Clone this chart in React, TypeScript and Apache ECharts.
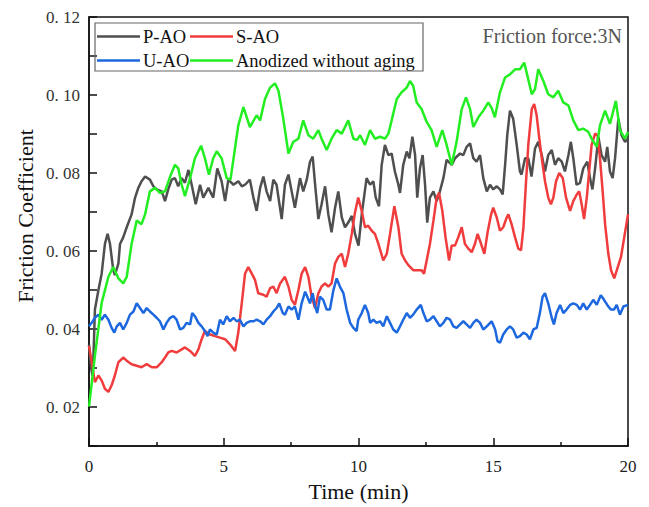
import React, { useEffect, useRef } from "react";
import * as echarts from "echarts";

const seriesNames = ["P-AO", "S-AO", "U-AO", "Anodized without aging"];
const seriesColors = ["#4f4f4f", "#f03c3c", "#1d68de", "#22ee22"];

const pAO: [number, number][] = [
  [0, 0.036], [0.08, 0.030], [0.13, 0.028], [0.17, 0.034], [0.22, 0.045], [0.35, 0.050], [0.47, 0.0542], [0.59, 0.0618], [0.69, 0.0644], [0.78, 0.0618], [0.9, 0.0551], [0.96, 0.0538], [1.09, 0.0568], [1.15, 0.0618], [1.27, 0.0635], [1.4, 0.0661], [1.58, 0.0694], [1.71, 0.0737], [1.83, 0.0762], [1.95, 0.0779], [2.08, 0.0791], [2.26, 0.0783], [2.39, 0.0766], [2.51, 0.0758], [2.7, 0.0753], [2.82, 0.0728], [2.94, 0.0758], [3.07, 0.0783], [3.19, 0.0787], [3.31, 0.0766], [3.44, 0.0787], [3.56, 0.0775], [3.69, 0.0808], [3.81, 0.077], [3.96, 0.072], [4.12, 0.077], [4.24, 0.0737], [4.43, 0.0762], [4.61, 0.0737], [4.76, 0.0812], [4.92, 0.0779], [5.05, 0.0728], [5.17, 0.0783], [5.36, 0.077], [5.54, 0.0779], [5.67, 0.0766], [5.79, 0.077], [5.97, 0.0783], [6.1, 0.0737], [6.22, 0.0703], [6.35, 0.0762], [6.47, 0.0791], [6.59, 0.0753], [6.72, 0.0728], [6.84, 0.0783], [6.96, 0.077], [7.15, 0.0682], [7.27, 0.077], [7.4, 0.0796], [7.52, 0.0753], [7.64, 0.0711], [7.83, 0.0787], [7.95, 0.0753], [8.08, 0.0783], [8.2, 0.0829], [8.3, 0.0842], [8.39, 0.077], [8.51, 0.0682], [8.63, 0.072], [8.76, 0.0766], [8.88, 0.0694], [9.0, 0.0648], [9.13, 0.0711], [9.25, 0.0753], [9.38, 0.0686], [9.5, 0.0661], [9.62, 0.0673], [9.75, 0.069], [9.87, 0.0644], [10.0, 0.0614], [10.12, 0.0694], [10.3, 0.0787], [10.43, 0.077], [10.55, 0.0779], [10.64, 0.0737], [10.76, 0.0715], [10.86, 0.0821], [10.98, 0.0872], [11.11, 0.0846], [11.23, 0.085], [11.35, 0.0804], [11.48, 0.077], [11.54, 0.0749], [11.66, 0.0821], [11.79, 0.0855], [11.89, 0.0838], [12.0, 0.0893], [12.1, 0.0846], [12.18, 0.0737], [12.28, 0.0812], [12.38, 0.0846], [12.47, 0.077], [12.55, 0.0673], [12.65, 0.0737], [12.78, 0.0753], [12.9, 0.0728], [13.02, 0.0753], [13.15, 0.0787], [13.27, 0.0834], [13.46, 0.0821], [13.58, 0.0838], [13.77, 0.085], [13.89, 0.0846], [14.01, 0.0867], [14.14, 0.0876], [14.26, 0.0838], [14.38, 0.0829], [14.51, 0.0846], [14.63, 0.0787], [14.76, 0.0753], [14.88, 0.077], [15.0, 0.0758], [15.13, 0.0766], [15.25, 0.0758], [15.35, 0.0745], [15.44, 0.0821], [15.52, 0.0897], [15.62, 0.096], [15.74, 0.0939], [15.87, 0.0872], [15.99, 0.0804], [16.05, 0.0796], [16.18, 0.0838], [16.3, 0.0838], [16.42, 0.0791], [16.55, 0.0863], [16.67, 0.088], [16.8, 0.0846], [16.92, 0.0804], [17.04, 0.0846], [17.17, 0.0859], [17.29, 0.0821], [17.41, 0.0838], [17.54, 0.0829], [17.66, 0.0804], [17.79, 0.0846], [17.88, 0.088], [17.97, 0.0838], [18.09, 0.077], [18.22, 0.0775], [18.34, 0.0812], [18.49, 0.0829], [18.59, 0.0787], [18.68, 0.0758], [18.78, 0.0812], [18.9, 0.0893], [19.02, 0.0846], [19.15, 0.0829], [19.23, 0.0867], [19.33, 0.0804], [19.43, 0.0787], [19.52, 0.0838], [19.64, 0.0939], [19.76, 0.0897], [19.89, 0.088], [20.0, 0.0888],
];

const sAO: [number, number][] = [
  [0, 0.0357], [0.1, 0.0315], [0.22, 0.0264], [0.35, 0.0281], [0.47, 0.0268], [0.59, 0.0247], [0.72, 0.0239], [0.84, 0.0256], [0.96, 0.0281], [1.09, 0.0315], [1.27, 0.0327], [1.4, 0.0319], [1.58, 0.031], [1.77, 0.0306], [1.95, 0.0302], [2.14, 0.031], [2.33, 0.0302], [2.51, 0.0302], [2.7, 0.0315], [2.82, 0.0327], [2.94, 0.034], [3.07, 0.0344], [3.25, 0.034], [3.44, 0.0348], [3.56, 0.0353], [3.75, 0.0344], [3.93, 0.0331], [4.06, 0.0348], [4.18, 0.0374], [4.3, 0.0395], [4.49, 0.0386], [4.68, 0.0382], [4.86, 0.0378], [5.05, 0.0374], [5.23, 0.0361], [5.42, 0.0344], [5.54, 0.0391], [5.67, 0.0467], [5.79, 0.0542], [5.91, 0.0559], [6.04, 0.0542], [6.16, 0.0526], [6.28, 0.0492], [6.47, 0.0488], [6.59, 0.0483], [6.72, 0.0505], [6.84, 0.0509], [6.96, 0.0492], [7.09, 0.0517], [7.27, 0.0534], [7.4, 0.0509], [7.52, 0.0475], [7.64, 0.0462], [7.77, 0.05], [7.89, 0.0542], [8.02, 0.0559], [8.14, 0.0534], [8.26, 0.0483], [8.39, 0.0454], [8.51, 0.0492], [8.63, 0.0509], [8.76, 0.0517], [8.88, 0.0509], [9.0, 0.0517], [9.13, 0.0568], [9.25, 0.0585], [9.38, 0.0593], [9.5, 0.0559], [9.62, 0.0593], [9.75, 0.0644], [9.87, 0.0699], [9.99, 0.0737], [10.12, 0.0703], [10.24, 0.0661], [10.36, 0.0665], [10.49, 0.0652], [10.61, 0.0644], [10.74, 0.0618], [10.92, 0.0576], [11.05, 0.0593], [11.17, 0.0644], [11.33, 0.0715], [11.48, 0.0661], [11.6, 0.0593], [11.73, 0.0576], [11.85, 0.0564], [12.03, 0.0551], [12.22, 0.0551], [12.34, 0.0551], [12.43, 0.0542], [12.53, 0.0576], [12.65, 0.0618], [12.78, 0.0678], [12.9, 0.0737], [12.99, 0.0749], [13.11, 0.0703], [13.23, 0.0635], [13.36, 0.0576], [13.46, 0.0614], [13.58, 0.0614], [13.7, 0.0635], [13.83, 0.0661], [13.95, 0.0618], [14.08, 0.0606], [14.2, 0.0597], [14.32, 0.0618], [14.42, 0.0644], [14.55, 0.0618], [14.67, 0.0593], [14.79, 0.0648], [14.92, 0.0694], [15.0, 0.0711], [15.13, 0.0686], [15.25, 0.0652], [15.37, 0.0661], [15.5, 0.0686], [15.56, 0.0694], [15.68, 0.0669], [15.81, 0.0635], [15.93, 0.0606], [16.03, 0.0602], [16.12, 0.0661], [16.21, 0.077], [16.3, 0.0872], [16.43, 0.0964], [16.52, 0.0977], [16.61, 0.0948], [16.71, 0.0888], [16.8, 0.0838], [16.92, 0.0779], [17.04, 0.0737], [17.14, 0.072], [17.23, 0.0737], [17.33, 0.0779], [17.45, 0.08], [17.58, 0.0787], [17.7, 0.0737], [17.85, 0.0703], [17.97, 0.0728], [18.1, 0.0745], [18.19, 0.0753], [18.28, 0.072], [18.37, 0.0682], [18.47, 0.0737], [18.57, 0.0812], [18.65, 0.0872], [18.78, 0.0901], [18.87, 0.0897], [18.96, 0.0838], [19.06, 0.0753], [19.15, 0.0669], [19.27, 0.0593], [19.37, 0.0551], [19.49, 0.053], [19.62, 0.0559], [19.74, 0.0585], [19.86, 0.0635], [20.0, 0.0694],
];

const uAO: [number, number][] = [
  [0, 0.0407], [0.1, 0.0416], [0.22, 0.0429], [0.35, 0.0437], [0.47, 0.0424], [0.59, 0.0437], [0.72, 0.0424], [0.84, 0.0403], [0.94, 0.0391], [1.03, 0.0407], [1.15, 0.0416], [1.27, 0.0399], [1.4, 0.0416], [1.52, 0.0437], [1.65, 0.0445], [1.77, 0.0466], [1.89, 0.0454], [2.02, 0.0441], [2.14, 0.0454], [2.26, 0.0445], [2.39, 0.0437], [2.51, 0.0429], [2.63, 0.042], [2.76, 0.0399], [2.88, 0.0416], [3.01, 0.0429], [3.13, 0.0433], [3.25, 0.0424], [3.38, 0.0399], [3.5, 0.0403], [3.62, 0.0416], [3.75, 0.0412], [3.83, 0.0441], [3.93, 0.0433], [4.06, 0.0416], [4.18, 0.0407], [4.3, 0.0395], [4.4, 0.0382], [4.49, 0.0399], [4.61, 0.0391], [4.74, 0.0386], [4.86, 0.0424], [4.98, 0.0412], [5.11, 0.0433], [5.23, 0.042], [5.36, 0.0429], [5.48, 0.042], [5.6, 0.0424], [5.73, 0.0407], [5.85, 0.0416], [5.97, 0.042], [6.1, 0.042], [6.22, 0.0424], [6.35, 0.042], [6.47, 0.0412], [6.59, 0.0424], [6.72, 0.0433], [6.84, 0.0445], [6.96, 0.0454], [7.06, 0.0466], [7.19, 0.0441], [7.27, 0.0437], [7.4, 0.0458], [7.52, 0.045], [7.64, 0.0458], [7.77, 0.0424], [7.89, 0.0466], [8.02, 0.0496], [8.1, 0.0483], [8.2, 0.0466], [8.3, 0.0492], [8.39, 0.0458], [8.47, 0.0441], [8.57, 0.0483], [8.69, 0.0475], [8.82, 0.045], [8.94, 0.045], [9.07, 0.05], [9.19, 0.053], [9.31, 0.0509], [9.44, 0.0492], [9.56, 0.045], [9.69, 0.0416], [9.81, 0.0403], [9.93, 0.0395], [9.99, 0.0424], [10.12, 0.0441], [10.24, 0.0462], [10.36, 0.0441], [10.43, 0.0416], [10.55, 0.0424], [10.67, 0.0416], [10.8, 0.042], [10.92, 0.0407], [11.05, 0.0433], [11.17, 0.0416], [11.29, 0.0399], [11.42, 0.0391], [11.54, 0.0407], [11.66, 0.0424], [11.79, 0.0441], [11.91, 0.0429], [12.03, 0.0437], [12.16, 0.045], [12.31, 0.0462], [12.41, 0.0441], [12.53, 0.042], [12.65, 0.0424], [12.78, 0.0433], [12.9, 0.042], [13.02, 0.0407], [13.15, 0.0416], [13.27, 0.0429], [13.4, 0.0424], [13.52, 0.0407], [13.64, 0.0403], [13.77, 0.0412], [13.89, 0.042], [14.01, 0.0412], [14.14, 0.0403], [14.26, 0.0416], [14.38, 0.0424], [14.51, 0.0416], [14.63, 0.0399], [14.76, 0.0407], [14.94, 0.042], [15.07, 0.0399], [15.16, 0.0369], [15.25, 0.0365], [15.37, 0.0386], [15.5, 0.0399], [15.62, 0.0407], [15.74, 0.0399], [15.87, 0.0378], [15.99, 0.0382], [16.12, 0.0391], [16.24, 0.0386], [16.36, 0.0374], [16.49, 0.0399], [16.61, 0.0403], [16.73, 0.0441], [16.83, 0.0483], [16.92, 0.0492], [17.04, 0.0466], [17.17, 0.0429], [17.25, 0.0412], [17.35, 0.0441], [17.48, 0.0462], [17.6, 0.0441], [17.72, 0.045], [17.85, 0.0462], [17.97, 0.0466], [18.1, 0.0462], [18.22, 0.045], [18.34, 0.0466], [18.47, 0.045], [18.59, 0.0462], [18.71, 0.0475], [18.84, 0.0462], [18.99, 0.0487], [19.11, 0.0475], [19.23, 0.0462], [19.36, 0.045], [19.48, 0.045], [19.58, 0.0462], [19.7, 0.0437], [19.83, 0.0458], [20.0, 0.0462],
];

const anodized: [number, number][] = [
  [0, 0.0201], [0.22, 0.0332], [0.47, 0.0467], [0.72, 0.0534], [0.9, 0.0559], [1.09, 0.053], [1.27, 0.0517], [1.4, 0.0534], [1.58, 0.0618], [1.77, 0.0678], [1.95, 0.0669], [2.08, 0.0694], [2.26, 0.0753], [2.45, 0.0762], [2.63, 0.0749], [2.82, 0.0753], [3.01, 0.0791], [3.19, 0.0821], [3.31, 0.0812], [3.44, 0.077], [3.56, 0.0741], [3.75, 0.0787], [3.93, 0.0838], [4.16, 0.087], [4.3, 0.0838], [4.45, 0.0796], [4.61, 0.0838], [4.74, 0.0856], [4.92, 0.0838], [5.11, 0.0787], [5.25, 0.0783], [5.54, 0.0922], [5.73, 0.0969], [5.97, 0.0918], [6.22, 0.0948], [6.35, 0.0935], [6.53, 0.099], [6.72, 0.1019], [6.9, 0.103], [7.03, 0.1011], [7.21, 0.0939], [7.4, 0.085], [7.58, 0.088], [7.77, 0.0888], [7.95, 0.0935], [8.14, 0.0897], [8.32, 0.0888], [8.51, 0.091], [8.63, 0.0888], [8.82, 0.0859], [9.0, 0.0888], [9.19, 0.091], [9.38, 0.0901], [9.62, 0.0935], [9.81, 0.0888], [9.95, 0.0885], [10.06, 0.0897], [10.24, 0.0872], [10.43, 0.091], [10.61, 0.0888], [10.8, 0.0893], [10.98, 0.0888], [11.11, 0.0901], [11.23, 0.0935], [11.42, 0.099], [11.6, 0.1007], [11.79, 0.1019], [11.91, 0.1036], [12.03, 0.1023], [12.16, 0.0981], [12.34, 0.0964], [12.53, 0.0931], [12.71, 0.091], [12.9, 0.0867], [13.11, 0.091], [13.27, 0.0872], [13.46, 0.0821], [13.64, 0.088], [13.83, 0.0964], [13.99, 0.0994], [14.14, 0.0964], [14.26, 0.0918], [14.45, 0.0943], [14.63, 0.096], [14.82, 0.0981], [14.95, 0.0965], [15.06, 0.0943], [15.25, 0.1007], [15.44, 0.1045], [15.62, 0.1053], [15.81, 0.1066], [15.99, 0.1066], [16.15, 0.1083], [16.3, 0.104], [16.43, 0.1002], [16.55, 0.1015], [16.67, 0.1066], [16.86, 0.1036], [17.04, 0.1002], [17.23, 0.0994], [17.41, 0.1011], [17.6, 0.0981], [17.79, 0.0973], [17.97, 0.0935], [18.16, 0.091], [18.34, 0.0914], [18.53, 0.0905], [18.65, 0.0888], [18.84, 0.0867], [18.96, 0.0922], [19.15, 0.096], [19.33, 0.0926], [19.55, 0.0985], [19.7, 0.091], [19.89, 0.0888], [20.0, 0.0905],
];

const allSeries = [pAO, sAO, uAO, anodized];

export default function App() {
  const ref = useRef<HTMLDivElement>(null);
  useEffect(() => {
    if (!ref.current) return;
    const chart = echarts.init(ref.current, undefined, { renderer: "svg" });
    const serif = "'Liberation Serif', 'Times New Roman', serif";
    const legendPos = [
      { left: 97, top: 27 },
      { left: 190, top: 27 },
      { left: 97, top: 51 },
      { left: 190, top: 51 },
    ];
    chart.setOption({
      animation: false,
      backgroundColor: "#ffffff",
      grid: {
        left: 89,
        right: 21,
        top: 17,
        bottom: 56,
        show: true,
        borderColor: "#111",
        borderWidth: 1.5,
        backgroundColor: "transparent",
      },
      legend: seriesNames.map((n, i) => ({
        data: [n],
        left: legendPos[i].left,
        top: legendPos[i].top,
        icon: "rect",
        itemWidth: 43,
        itemHeight: 2.5,
        itemGap: 4,
        padding: 0,
        textStyle: { fontFamily: serif, fontSize: 18.5, color: "#111", padding: [0, 0, 0, -2] },
      })),
      xAxis: {
        type: "value",
        min: 0,
        max: 20,
        interval: 5,
        axisLine: { show: true, lineStyle: { color: "#111", width: 1.5 } },
        axisTick: { show: true, inside: true, length: 8, lineStyle: { color: "#111", width: 1.5 } },
        minorTick: { show: true, splitNumber: 2, length: 4, lineStyle: { color: "#111", width: 1.5 } },
        splitLine: { show: false },
        axisLabel: { fontFamily: serif, fontSize: 17, color: "#222", margin: 12 },
        name: "Time (min)",
        nameLocation: "middle",
        nameGap: 31,
        nameTextStyle: { fontFamily: serif, fontSize: 22, color: "#111" },
      },
      yAxis: {
        type: "value",
        min: 0.01,
        max: 0.12,
        interval: 0.01,
        axisLine: { show: true, lineStyle: { color: "#111", width: 1.5 } },
        axisTick: { show: true, inside: true, length: 8, lineStyle: { color: "#111", width: 1.5 } },
        splitLine: { show: false },
        axisLabel: {
          fontFamily: serif,
          fontSize: 17,
          color: "#333",
          margin: 9,
          formatter: (v: number) => {
            const k = Math.round(v * 100);
            if (k % 2 !== 0) return "";
            return (k / 100).toFixed(2).replace(".", ". ");
          },
        },
      },
      graphic: [
        {
          type: "rect",
          shape: { x: 95, y: 23, width: 328, height: 48 },
          style: { fill: "transparent", stroke: "#666", lineWidth: 1.2 },
          z: 10,
        },
        {
          type: "text",
          x: 622,
          y: 36,
          style: {
            text: "Friction force:3N",
            fontFamily: serif,
            fontSize: 20,
            fill: "#555",
            textAlign: "right",
            textVerticalAlign: "middle",
          },
          z: 10,
        },
        {
          type: "text",
          x: 25,
          y: 216,
          rotation: Math.PI / 2,
          style: {
            text: "Friction Coefficient",
            fontFamily: serif,
            fontSize: 22,
            fill: "#111",
            textAlign: "center",
            textVerticalAlign: "middle",
          },
        },
      ],
      series: allSeries.map((d, i) => ({
        name: seriesNames[i],
        type: "line",
        data: d,
        showSymbol: false,
        symbol: "none",
        smooth: false,
        lineStyle: { color: seriesColors[i], width: 2.5 },
        itemStyle: { color: seriesColors[i] },
      })),
    });
    return () => chart.dispose();
  }, []);
  return (
    <div
      ref={ref}
      style={{ position: "fixed", left: 0, top: 0, width: 649, height: 507 }}
    />
  );
}
